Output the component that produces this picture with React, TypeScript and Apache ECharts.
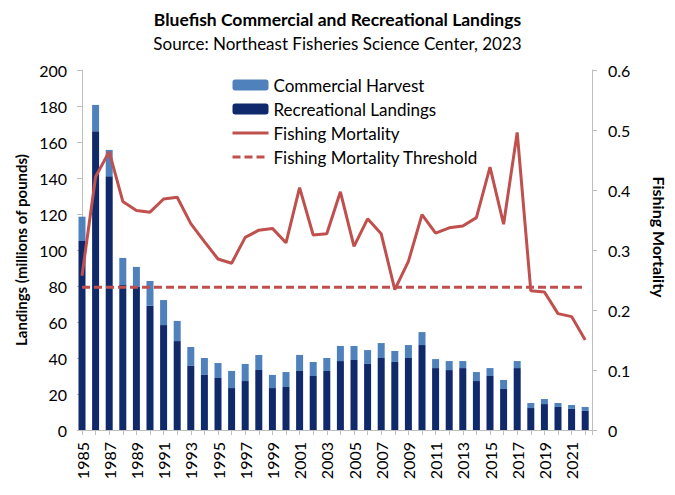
import React, { useEffect, useRef } from "react";
import * as echarts from "echarts";

const years = [1985,1986,1987,1988,1989,1990,1991,1992,1993,1994,1995,1996,1997,1998,1999,2000,2001,2002,2003,2004,2005,2006,2007,2008,2009,2010,2011,2012,2013,2014,2015,2016,2017,2018,2019,2020,2021,2022];
const recreational = [105,166,141,80.5,79.5,69,58.3,49.4,35.6,30.6,28.9,23.3,27.2,33.3,23.3,23.9,32.8,30,32.8,38.3,38.9,36.7,40,37.8,40,47.2,34.4,33.3,34.4,27.2,30,22.8,34.4,12.2,14.4,12.8,11.7,10.6];
const commercial = [13.5,14.6,14.6,15.1,11.1,13.8,13.9,11.2,10.5,9.4,8.3,9.5,9.5,8.4,7.3,8.3,8.9,7.8,7.2,8.4,7.8,7.7,8.3,6.1,7.2,7.2,5.0,5.0,3.9,5.0,4.4,5.0,3.9,2.8,2.8,2.2,2.2,2.2];
const mortality = [0.257,0.422,0.464,0.381,0.366,0.363,0.385,0.388,0.344,0.314,0.285,0.278,0.321,0.333,0.336,0.312,0.404,0.325,0.327,0.397,0.306,0.352,0.327,0.234,0.281,0.359,0.328,0.337,0.340,0.354,0.438,0.343,0.496,0.232,0.230,0.194,0.189,0.150];
const threshold = years.map(() => 0.238);

const FONT = "Lato";

export default function App() {
  const ref = useRef<HTMLDivElement>(null);
  useEffect(() => {
    if (!ref.current) return;
    const chart = echarts.init(ref.current, undefined, { renderer: "svg" });
    // value first, year second, so the stack is computed on the value dimension
    const pair = (arr: number[]) => years.map((y, i) => [arr[i], y]);
    const enc = { x: 1, y: 0 };
    chart.setOption({
      animation: false,
      textStyle: { fontFamily: FONT, color: "#000" },
      title: {
        text: "Bluefish Commercial and Recreational Landings",
        subtext: "Source: Northeast Fisheries Science Center, 2023",
        left: "center",
        top: 9,
        padding: 0,
        itemGap: 4,
        textStyle: { fontFamily: FONT, fontSize: 17.5, fontWeight: "bold", color: "#000", lineHeight: 20 },
        subtextStyle: { fontFamily: FONT, fontSize: 17, color: "#000", lineHeight: 20 },
      },
      legend: {
        orient: "vertical",
        left: 231,
        top: 75,
        padding: 0,
        itemGap: 4,
        itemWidth: 36,
        itemHeight: 11,
        textStyle: { fontFamily: FONT, fontSize: 17, color: "#000", lineHeight: 20 },
        data: [
          { name: "Commercial Harvest" },
          { name: "Recreational Landings" },
          { name: "Fishing Mortality", itemStyle: { opacity: 0 }, lineStyle: { width: 3 } },
          { name: "Fishing Mortality Threshold", itemStyle: { opacity: 0 }, lineStyle: { width: 3, type: [8, 4] } },
        ],
      },
      grid: { left: 82, right: 80, top: 70, bottom: 65 },
      xAxis: {
        type: "value",
        min: 1985,
        max: 2022.5,
        interval: 1,
        axisLine: { show: true, lineStyle: { color: "#BFBFBF" } },
        axisTick: { show: true, length: 5, lineStyle: { color: "#BFBFBF" } },
        splitLine: { show: false },
        axisLabel: {
          rotate: 90,
          margin: 12,
          fontSize: 16,
          fontFamily: FONT,
          color: "#000",
          hideOverlap: false,
          showMinLabel: true,
          showMaxLabel: true,
          formatter: (v: number) => (Number.isInteger(v) && v % 2 === 1 ? String(v) : ""),
        },
      },
      yAxis: [
        {
          type: "value",
          min: 0,
          max: 200,
          interval: 20,
          name: "Landings (millions of pounds)",
          nameLocation: "middle",
          nameGap: 54,
          nameTextStyle: { fontFamily: FONT, fontSize: 15, fontWeight: "bold", color: "#000" },
          axisLine: { show: true, lineStyle: { color: "#BFBFBF" } },
          axisTick: { show: true, length: 5, lineStyle: { color: "#BFBFBF" } },
          splitLine: { show: false },
          axisLabel: { margin: 15, fontSize: 16, fontFamily: FONT, color: "#000" },
        },
        {
          type: "value",
          min: 0,
          max: 0.6,
          interval: 0.1,
          position: "right",
          name: "Fishing Mortality",
          nameLocation: "middle",
          nameRotate: -90,
          nameGap: 59,
          nameTextStyle: { fontFamily: FONT, fontSize: 16, fontWeight: "bold", color: "#000", padding: [0, 26, 0, 0] },
          axisLine: { show: true, lineStyle: { color: "#BFBFBF" } },
          axisTick: { show: true, length: 5, lineStyle: { color: "#BFBFBF" } },
          splitLine: { show: false },
          axisLabel: { margin: 16, fontSize: 16, fontFamily: FONT, color: "#000" },
        },
      ],
      series: [
        {
          name: "Recreational Landings",
          type: "bar",
          stack: "landings",
          barWidth: 7,
          clip: true,
          encode: enc,
          itemStyle: { color: "#10296B" },
          data: pair(recreational),
        },
        {
          name: "Commercial Harvest",
          type: "bar",
          stack: "landings",
          barWidth: 7,
          clip: true,
          encode: enc,
          itemStyle: { color: "#4F81BD" },
          data: pair(commercial),
        },
        {
          name: "Fishing Mortality",
          type: "line",
          yAxisIndex: 1,
          symbol: "none",
          encode: enc,
          lineStyle: { color: "#C0504D", width: 3 },
          itemStyle: { color: "#C0504D" },
          data: pair(mortality),
        },
        {
          name: "Fishing Mortality Threshold",
          type: "line",
          yAxisIndex: 1,
          symbol: "none",
          encode: enc,
          lineStyle: { color: "#C0504D", width: 3, type: [8, 4] },
          itemStyle: { color: "#C0504D" },
          data: pair(threshold),
        },
      ],
    });
    return () => chart.dispose();
  }, []);
  return (
    <div
      ref={ref}
      style={{ position: "fixed", left: 0, top: 0, width: 675, height: 495, background: "#fff" }}
    />
  );
}
